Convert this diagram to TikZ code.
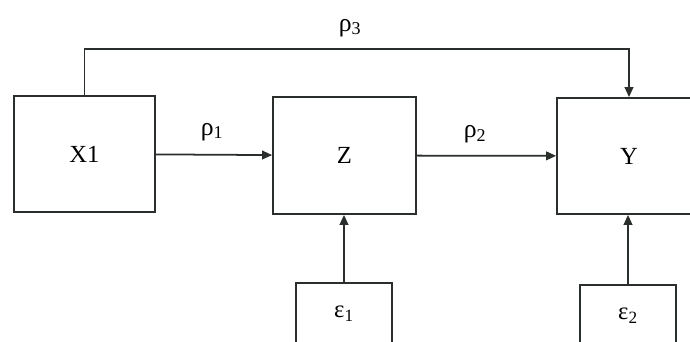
\documentclass[tikz,border=0pt]{standalone}
\usepackage{fontspec}
\setmainfont{Liberation Serif}
\definecolor{pathline}{HTML}{2B2F2C}
\usetikzlibrary{arrows.meta}

\begin{document}
\begin{tikzpicture}[x=1cm,y=1cm,
    varbox/.style={draw=pathline,line width=1.5pt,inner sep=0,
      font=\fontsize{21}{24}\selectfont},
    errbox/.style={draw=pathline,line width=1.5pt,inner sep=0,
      minimum width=2.88cm,minimum height=1.86cm,
      font=\fontsize{21}{24}\selectfont},
    coef/.style={font=\fontsize{22}{25}\selectfont},
    path arrow/.style={draw=pathline,line width=1.5pt,
      -{Triangle[length=3mm,width=2.6mm]}}]
      \path[use as bounding box] (0,0) rectangle (20.7,10.26);
      \clip (0,0) rectangle (20.7,10.26);
      % the three variables
      \node[varbox,minimum width=4.23cm,minimum height=3.48cm]
        (x1) at (2.535,5.64) {X1};
      \node[varbox,minimum width=4.29cm,minimum height=3.51cm]
        (z) at (10.335,5.595) {Z};
      \node[varbox,minimum width=4.32cm,minimum height=3.48cm]
        (y) at (18.87,5.58) {Y};
      % error terms, cut off at the bottom edge
      \node[errbox] (e1) at (10.32,0.84) {ε\textsubscript{1}};
      \node[errbox] (e2) at (18.84,0.78) {ε\textsubscript{2}};
      % paths
      \draw[path arrow] (x1) -- (z);
      \draw[path arrow] (z) -- (y);
      \draw[path arrow] (x1.north) -- ++(0,1.38) -| (y.north);
      \draw[path arrow] (e1.north) -- (e1.north |- z.south);
      \draw[path arrow] (e2.north) -- (e2.north |- y.south);
      % path coefficients
      \node[coef] (rho1) at (6.36,6.3) {ρ\textsubscript{1}};
      \node[coef] (rho2) at (14.25,6.22) {ρ\textsubscript{2}};
      \node[coef] (rho3) at (10.5,9.42) {ρ\textsubscript{3}};
    \end{tikzpicture}
\end{document}
